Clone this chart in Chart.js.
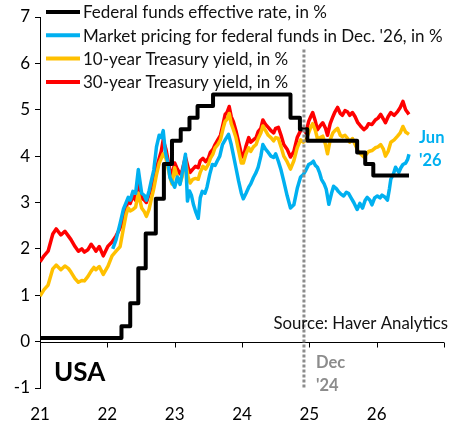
<!DOCTYPE html>
<html>
<head>
<meta charset="utf-8">
<script src="https://cdn.jsdelivr.net/npm/chart.js@4.4.1/dist/chart.umd.min.js"></script>
<style>
  html, body { margin: 0; padding: 0; background: #fff; }
  #wrap { width: 456px; height: 421px; position: relative; }
</style>
</head>
<body>
<div id="wrap"><canvas id="chart"></canvas></div>
<script>
// dates as decimal years, shared by the two Treasury series
const yieldDates = [
  2021.00, 2021.06, 2021.12, 2021.19, 2021.24, 2021.31, 2021.37, 2021.42, 2021.46, 2021.52,
  2021.57, 2021.62, 2021.66, 2021.71, 2021.76, 2021.80, 2021.83, 2021.88, 2021.94, 2022.01,
  2022.07, 2022.13, 2022.19, 2022.24, 2022.28, 2022.31, 2022.34, 2022.38, 2022.42, 2022.46,
  2022.51, 2022.55, 2022.58, 2022.62, 2022.65, 2022.69, 2022.73, 2022.77, 2022.80, 2022.83,
  2022.87, 2022.90, 2022.93, 2022.96, 2023.00, 2023.04, 2023.08, 2023.11, 2023.16, 2023.20,
  2023.23, 2023.27, 2023.31, 2023.35, 2023.38, 2023.42, 2023.46, 2023.50, 2023.53, 2023.57,
  2023.60, 2023.64, 2023.68, 2023.72, 2023.75, 2023.78, 2023.81, 2023.84, 2023.87, 2023.91,
  2023.95, 2023.99, 2024.02, 2024.06, 2024.10, 2024.13, 2024.17, 2024.21, 2024.24, 2024.28,
  2024.31, 2024.35, 2024.39, 2024.43, 2024.47, 2024.50, 2024.54, 2024.58, 2024.62, 2024.67,
  2024.72, 2024.77, 2024.82, 2024.87, 2024.91, 2024.95, 2024.99, 2025.02, 2025.05, 2025.09,
  2025.12, 2025.16, 2025.20, 2025.24, 2025.27, 2025.31, 2025.35, 2025.38, 2025.42, 2025.46,
  2025.49, 2025.53, 2025.57, 2025.60, 2025.64, 2025.68, 2025.72, 2025.76, 2025.81, 2025.85,
  2025.88, 2025.93, 2025.98, 2026.02, 2026.06, 2026.10, 2026.13, 2026.17, 2026.21, 2026.26,
  2026.31, 2026.35, 2026.39, 2026.43, 2026.48
];

const treasury30 = [
  1.72, 1.85, 1.95, 2.32, 2.43, 2.30, 2.38, 2.28, 2.20, 2.05,
  1.95, 2.00, 1.93, 1.98, 2.10, 2.02, 1.95, 2.05, 1.85, 2.06,
  2.15, 2.28, 2.45, 2.65, 2.90, 3.05, 2.98, 3.14, 3.05, 3.50,
  3.10, 3.05, 3.00, 3.18, 3.30, 3.50, 3.75, 3.95, 4.10, 4.35,
  4.15, 3.92, 3.70, 3.55, 3.85, 3.72, 3.62, 3.68, 3.98, 3.75,
  3.65, 3.72, 3.78, 3.75, 3.90, 3.95, 3.88, 3.95, 4.08, 4.15,
  4.25, 4.35, 4.45, 4.70, 4.90, 4.95, 5.07, 4.85, 4.75, 4.55,
  4.30, 4.05, 3.98, 4.22, 4.40, 4.30, 4.35, 4.40, 4.53, 4.60,
  4.78, 4.68, 4.62, 4.55, 4.50, 4.60, 4.62, 4.45, 4.25, 4.15,
  3.98, 4.10, 4.40, 4.55, 4.60, 4.50, 4.75, 4.85, 4.94, 4.75,
  4.57, 4.65, 4.72, 4.60, 4.45, 4.70, 4.85, 4.95, 5.05, 4.92,
  4.88, 4.98, 4.95, 4.88, 4.94, 4.85, 4.72, 4.65, 4.57, 4.62,
  4.70, 4.68, 4.78, 4.82, 4.90, 4.80, 4.72, 4.85, 4.94, 4.88,
  4.96, 5.05, 5.18, 5.00, 4.90
];

const treasury10 = [
  0.98, 1.12, 1.22, 1.57, 1.65, 1.55, 1.63, 1.58, 1.50, 1.36,
  1.28, 1.32, 1.31, 1.40, 1.52, 1.60, 1.55, 1.62, 1.45, 1.63,
  1.85, 1.95, 2.05, 2.45, 2.75, 2.88, 2.82, 2.85, 2.90, 3.20,
  2.88, 2.80, 2.70, 2.85, 3.05, 3.30, 3.60, 3.85, 3.95, 4.05,
  3.95, 3.75, 3.55, 3.40, 3.75, 3.55, 3.42, 3.55, 3.90, 3.55,
  3.42, 3.50, 3.52, 3.50, 3.65, 3.78, 3.72, 3.82, 3.95, 4.05,
  4.18, 4.25, 4.35, 4.60, 4.75, 4.80, 4.92, 4.70, 4.58, 4.40,
  4.12, 3.85, 3.85, 4.05, 4.18, 4.10, 4.20, 4.25, 4.38, 4.50,
  4.65, 4.55, 4.45, 4.40, 4.33, 4.40, 4.38, 4.20, 4.00, 3.88,
  3.72, 3.90, 4.18, 4.35, 4.30, 4.35, 4.50, 4.62, 4.70, 4.55,
  4.38, 4.40, 4.43, 4.25, 4.05, 4.35, 4.50, 4.55, 4.60, 4.45,
  4.42, 4.45, 4.38, 4.30, 4.38, 4.25, 4.12, 4.05, 3.98, 4.05,
  4.10, 4.12, 4.18, 4.20, 4.25, 4.15, 4.00, 4.10, 4.30, 4.35,
  4.43, 4.50, 4.64, 4.52, 4.47
];

// market-implied fed funds rate for Dec. 2026
const pricingDates = [
  2022.08, 2022.13, 2022.19, 2022.24, 2022.28, 2022.31, 2022.34, 2022.38, 2022.42, 2022.46,
  2022.51, 2022.55, 2022.58, 2022.62, 2022.65, 2022.69, 2022.73, 2022.77, 2022.80, 2022.83,
  2022.86, 2022.90, 2022.93, 2022.96, 2023.00, 2023.04, 2023.08, 2023.12, 2023.16, 2023.19,
  2023.22, 2023.25, 2023.28, 2023.31, 2023.35, 2023.38, 2023.41, 2023.45, 2023.48, 2023.52,
  2023.56, 2023.60, 2023.63, 2023.67, 2023.71, 2023.75, 2023.80, 2023.84, 2023.87, 2023.91,
  2023.95, 2023.99, 2024.02, 2024.06, 2024.10, 2024.13, 2024.17, 2024.21, 2024.24, 2024.28,
  2024.31, 2024.35, 2024.39, 2024.43, 2024.47, 2024.50, 2024.54, 2024.58, 2024.62, 2024.67,
  2024.72, 2024.77, 2024.82, 2024.87, 2024.91, 2024.95, 2024.99, 2025.03, 2025.06, 2025.09,
  2025.12, 2025.15, 2025.18, 2025.22, 2025.25, 2025.29, 2025.33, 2025.36, 2025.40, 2025.43,
  2025.47, 2025.51, 2025.55, 2025.58, 2025.62, 2025.66, 2025.71, 2025.75, 2025.79, 2025.83,
  2025.86, 2025.90, 2025.93, 2025.97, 2026.01, 2026.05, 2026.08, 2026.12, 2026.16, 2026.19,
  2026.21, 2026.25, 2026.28, 2026.33, 2026.36, 2026.39, 2026.43, 2026.46, 2026.48
];

const pricingDec26 = [
  2.00, 2.20, 2.55, 2.86, 3.00, 3.11, 3.05, 3.24, 3.20, 3.71,
  3.20, 3.15, 3.05, 3.25, 3.45, 3.70, 4.20, 4.45, 4.40, 4.55,
  4.10, 3.85, 3.54, 3.45, 3.33, 3.55, 3.39, 3.70, 4.04, 3.03,
  3.25, 3.15, 2.95, 2.81, 2.66, 3.10, 3.24, 3.20, 3.33, 3.60,
  3.82, 3.80, 3.89, 4.00, 4.25, 4.35, 4.47, 4.25, 4.04, 3.75,
  3.46, 3.20, 3.08, 3.20, 3.33, 3.40, 3.54, 3.65, 3.76, 4.00,
  4.25, 4.15, 4.08, 4.00, 3.97, 4.05, 3.89, 3.70, 3.46, 3.15,
  2.88, 2.95, 3.30, 3.55, 3.60, 3.70, 3.82, 3.85, 3.89, 3.80,
  3.76, 3.65, 3.50, 3.40, 3.29, 2.96, 3.20, 3.35, 3.30, 3.24,
  3.18, 3.14, 3.22, 3.20, 3.10, 3.00, 2.85, 2.98, 2.88, 3.05,
  3.11, 3.05, 2.95, 3.10, 3.14, 3.10, 3.16, 3.12, 3.05, 3.30,
  3.50, 3.62, 3.76, 3.65, 3.75, 3.82, 3.85, 3.93, 4.04
];

// effective fed funds rate: date of each change and the new level
const fedFundsDates = [
  2021.00, 2022.21, 2022.34, 2022.46, 2022.57, 2022.72, 2022.84, 2022.96, 2023.09, 2023.22,
  2023.34, 2023.57, 2024.72, 2024.86, 2024.97, 2025.71, 2025.83, 2025.95, 2026.48
];
const fedFundsRate = [
  0.08, 0.33, 0.83, 1.58, 2.33, 3.08, 3.83, 4.33, 4.58, 4.83,
  5.08, 5.33, 4.83, 4.58, 4.33, 4.08, 3.83, 3.58, 3.58
];

const yearTicks = [2021, 2022, 2023, 2024, 2025, 2026, 2027];
const decMarker = 2024.92;

const FONT = 'Lato, "Open Sans", sans-serif';

const toPoints = (xs, ys) => xs.map((d, i) => ({ x: d, y: ys[i] }));

const lineStyle = {
  pointRadius: 0,
  borderWidth: 3.5,
  tension: 0,
  fill: false,
  borderJoinStyle: 'round'
};

// zero axis, Dec '24 marker, legend and labels
const overlay = {
  id: 'overlay',
  afterDraw(chart) {
    const { ctx, scales: { x, y } } = chart;
    ctx.save();

    const y0 = Math.round(y.getPixelForValue(0)) + 0.5;
    ctx.strokeStyle = '#000';
    ctx.lineWidth = 1;
    ctx.beginPath();
    ctx.moveTo(x.left, y0);
    ctx.lineTo(x.right, y0);
    yearTicks.forEach(yr => {
      const px = Math.round(x.getPixelForValue(yr)) + 0.5;
      ctx.moveTo(px, y0);
      ctx.lineTo(px, y0 + 5);
    });
    ctx.stroke();

    const xd = x.getPixelForValue(decMarker);
    ctx.strokeStyle = '#8c8c8c';
    ctx.lineWidth = 3;
    ctx.setLineDash([3, 2]);
    ctx.beginPath();
    ctx.moveTo(xd, y.getPixelForValue(6.3));
    ctx.lineTo(xd, y.bottom);
    ctx.stroke();
    ctx.setLineDash([]);

    // legend
    ctx.textBaseline = 'middle';
    ctx.textAlign = 'left';
    ctx.font = '17px ' + FONT;
    chart.data.datasets.forEach((ds, i) => {
      const ly = 12 + i * 23.3;
      ctx.strokeStyle = ds.borderColor;
      ctx.lineWidth = 4;
      ctx.beginPath();
      ctx.moveTo(46, ly);
      ctx.lineTo(80, ly);
      ctx.stroke();
      ctx.fillStyle = '#111';
      ctx.fillText(ds.label, 83, ly + 1);
    });

    ctx.fillStyle = '#111';
    ctx.font = '16.8px ' + FONT;
    ctx.textAlign = 'right';
    ctx.fillText('Source: Haver Analytics', 448, 324);

    ctx.textAlign = 'left';
    ctx.font = 'bold 26px ' + FONT;
    ctx.fillStyle = '#000';
    ctx.fillText('USA', 54, 373);

    ctx.font = 'bold 16.5px ' + FONT;
    ctx.fillStyle = '#8c8c8c';
    ctx.fillText('Dec', 316, 363);
    ctx.fillText("'24", 316, 386);

    ctx.fillStyle = '#00b0f0';
    ctx.font = 'bold 16.5px ' + FONT;
    ctx.fillText('Jun', 419, 138);
    ctx.fillText("'26", 419, 161);

    ctx.restore();
  }
};

new Chart(document.getElementById('chart'), {
  type: 'line',
  data: {
    datasets: [
      {
        label: 'Federal funds effective rate, in %',
        data: toPoints(fedFundsDates, fedFundsRate),
        borderColor: '#000000',
        stepped: 'before',
        ...lineStyle,
        borderWidth: 4
      },
      {
        label: "Market pricing for federal funds in Dec. '26, in %",
        data: toPoints(pricingDates, pricingDec26),
        borderColor: '#00b0f0',
        ...lineStyle
      },
      {
        label: '10-year Treasury yield, in %',
        data: toPoints(yieldDates, treasury10),
        borderColor: '#ffc000',
        ...lineStyle
      },
      {
        label: '30-year Treasury yield, in %',
        data: toPoints(yieldDates, treasury30),
        borderColor: '#ff0000',
        ...lineStyle
      }
    ]
  },
  options: {
    responsive: true,
    maintainAspectRatio: false,
    animation: false,
    layout: { padding: { top: 17, right: 12, left: 0, bottom: 0 } },
    plugins: {
      legend: { display: false },
      tooltip: { enabled: false }
    },
    scales: {
      x: {
        type: 'linear',
        min: 2021,
        max: 2027,
        afterBuildTicks: s => { s.ticks = yearTicks.map(v => ({ value: v })); },
        afterFit: s => { s.height = 33; },
        grid: { display: false },
        border: { display: false },
        ticks: {
          color: '#000',
          font: { family: FONT, size: 17 },
          padding: 8,
          maxRotation: 0,
          callback: v => (v < 2027 ? String(v - 2000) : '')
        }
      },
      y: {
        min: -1,
        max: 7,
        afterFit: s => { s.width = 40; },
        grid: { drawOnChartArea: false, drawTicks: true, tickLength: 5, color: '#000' },
        border: { display: true, color: '#000', width: 1 },
        ticks: {
          stepSize: 1,
          color: '#000',
          font: { family: FONT, size: 17 },
          padding: 5
        }
      }
    }
  },
  plugins: [overlay]
});
</script>
</body>
</html>
